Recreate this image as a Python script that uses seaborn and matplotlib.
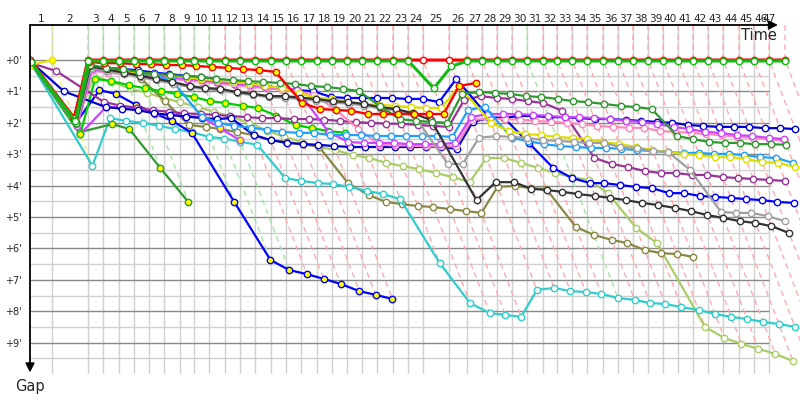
import matplotlib
matplotlib.use("Agg")
import matplotlib.pyplot as plt
import pandas as pd
import seaborn as sns

# ---------------- data ----------------
# leader's cumulative race time (minutes) at the end of laps 0..47
leader_time = [0.0, 1.83, 4.83, 6.08, 7.42, 8.67, 9.92, 11.17, 12.5, 13.67, 14.92,
               16.25, 17.5, 18.75, 20.08, 21.33, 22.58, 23.92, 25.17, 26.42, 27.67,
               28.92, 30.25, 31.5, 32.75, 34.92, 36.42, 37.67, 38.92, 40.17, 41.42,
               42.75, 43.92, 45.17, 46.42, 47.75, 49.0, 50.25, 51.5, 52.75, 54.0,
               55.25, 56.5, 57.75, 59.08, 60.33, 61.58, 62.92]
lap_numbers = list(range(1, 48))
gap_ticks = [0, 1, 2, 3, 4, 5, 6, 7, 8, 9]

# gap to leader (minutes) per lap, starting at lap 0 (the start)
green_w = [0.05, 1.95, 0.03, 0.03, 0.03, 0.03, 0.03, 0.03, 0.03, 0.03, 0.03, 0.03, 0.03,
           0.03, 0.03, 0.03, 0.03, 0.03, 0.03, 0.03, 0.03, 0.03, 0.03, 0.03, 0.9, 0.2,
           0.03, 0.03, 0.03, 0.03, 0.03, 0.03, 0.03, 0.03, 0.03, 0.03, 0.03, 0.03, 0.03,
           0.03, 0.03, 0.03, 0.03, 0.03, 0.03, 0.03, 0.03, 0.03]
red_w = [0.0, 1.85, 0, 0, 0, 0, 0, 0, 0, 0, 0, 0, 0, 0, 0, 0, 0, 0, 0, 0, 0, 0, 0, 0,
         0, 0, 0, 0, 0, 0, 0, 0, 0, 0, 0, 0, 0, 0, 0, 0, 0, 0, 0, 0, 0, 0, 0, 0]
yellow_y = [0.15, 0.0]
red_y = [0.0, 1.85, 0.06, 0.1, 0.1, 0.13, 0.13, 0.16, 0.16, 0.19, 0.22, 0.25, 0.29, 0.32,
         0.38, 1.37, 1.56, 1.59, 1.62, 1.72, 1.72, 1.72, 1.72, 1.72, 1.72, 0.83, 0.73]
dkgreen_w = [0.1, 2.0, 0.15, 0.25, 0.3, 0.38, 0.45, 0.48, 0.51, 0.54, 0.6, 0.64, 0.67, 0.7,
             0.73, 0.76, 0.83, 0.86, 0.92, 0.99, 1.46, 1.88, 1.94, 1.97, 2.0, 1.08, 1.02,
             1.05, 1.08, 1.15, 1.18, 1.24, 1.31, 1.34, 1.4, 1.46, 1.5, 1.56, 2.42, 2.52,
             2.61, 2.64, 2.64, 2.68, 2.68, 2.7]
black_w = [0.1, 2.0, 0.2, 0.3, 0.4, 0.5, 0.6, 0.7, 0.83, 0.89, 0.92, 1.02, 1.08, 1.15, 1.15,
           1.2, 1.24, 1.31, 1.34, 1.4, 1.5, 1.56, 1.7, 1.91, 4.46, 3.89, 3.89, 4.1, 4.14,
           4.2, 4.27, 4.33, 4.39, 4.46, 4.55, 4.62, 4.71, 4.81, 4.94, 5.03, 5.13, 5.19,
           5.29, 5.51]
gray_w = [0.12, 2.05, 0.25, 0.35, 0.45, 0.55, 0.65, 0.75, 0.87, 0.93, 0.97, 1.06, 1.12,
          1.19, 1.2, 1.25, 1.29, 1.36, 1.39, 1.45, 1.55, 1.61, 1.76, 3.31, 3.31, 2.48, 2.42,
          2.45, 2.48, 2.55, 2.58, 2.61, 2.64, 2.64, 2.77, 2.8, 2.9, 2.93, 3.5, 4.84, 4.87,
          4.87, 4.97, 5.13]
yellow_w = [0.1, 1.9, 0.25, 0.3, 0.35, 0.4, 0.45, 0.5, 0.55, 0.6, 0.65, 0.7, 0.75, 0.83,
            0.89, 1.05, 1.21, 1.24, 1.34, 1.4, 1.43, 1.46, 1.5, 1.53, 1.53, 0.83, 2.0, 2.26,
            2.36, 2.39, 2.45, 2.48, 2.52, 2.61, 2.68, 2.77, 2.87, 2.93, 3.0, 3.03, 3.09,
            3.09, 3.15, 3.25, 3.28, 3.41]
ltblue_w = [0.1, 2.0, 0.25, 0.25, 0.3, 0.4, 0.5, 0.65, 1.8, 2.0, 2.1, 2.15, 2.23, 2.29,
            2.32, 2.32, 2.39, 2.39, 2.39, 2.42, 2.42, 2.42, 2.42, 2.42, 2.45, 1.59, 1.5,
            2.48, 2.58, 2.68, 2.74, 2.77, 2.8, 2.8, 2.83, 2.87, 2.9, 2.93, 2.96, 2.96, 2.99,
            2.99, 3.03, 3.09, 3.12, 3.28]
violet_w = [0.1, 2.1, 0.3, 0.35, 0.4, 0.45, 0.5, 0.55, 0.6, 0.65, 0.7, 0.75, 0.8, 0.85,
            0.9, 0.95, 2.3, 2.61, 2.64, 2.64, 2.64, 2.68, 2.68, 2.68, 2.64, 1.82, 1.72, 1.72,
            1.72, 1.75, 1.78, 1.82, 1.82, 1.85, 1.88, 1.94, 1.97, 2.04, 2.13, 2.2, 2.29,
            2.32, 2.39, 2.42, 2.48, 2.52]
pink_w = [0.1, 2.1, 0.35, 0.4, 0.45, 0.5, 0.55, 0.6, 0.65, 0.7, 0.75, 0.8, 0.85, 0.9, 0.95,
          1.0, 1.1, 1.6, 2.2, 2.7, 2.72, 2.72, 2.75, 2.75, 2.75, 1.9, 1.88, 1.88, 1.9, 1.94,
          1.97, 2.0, 2.04, 2.1, 2.13, 2.16, 2.16, 2.26, 2.29, 2.32, 2.36, 2.39, 2.45, 2.48,
          2.52, 2.58]
navy_w = [0.05, 1.0, 1.5, 1.55, 1.6, 1.7, 1.75, 1.8, 1.85, 1.88, 1.85, 2.39, 2.55, 2.64,
          2.68, 2.7, 2.74, 2.77, 2.77, 2.77, 2.77, 2.77, 2.77, 2.77, 2.83, 1.97, 1.85, 1.85,
          1.78, 1.78, 1.82, 1.82, 1.85, 1.88, 1.88, 1.91, 1.94, 1.97, 2.0, 2.07, 2.1, 2.13,
          2.13, 2.13, 2.17, 2.17, 2.2]
blue_w = [0.05, 1.9, 0.22, 0.25, 0.28, 0.33, 0.4, 0.45, 0.5, 0.55, 0.6, 0.68, 0.75, 0.82,
          0.9, 0.96, 0.99, 1.18, 1.21, 1.21, 1.21, 1.21, 1.24, 1.24, 1.34, 0.6, 1.82, 1.85,
          2.64, 3.44, 3.76, 3.92, 3.92, 3.98, 4.04, 4.08, 4.24, 4.24, 4.33, 4.36, 4.39,
          4.43, 4.46, 4.52, 4.55]
purple_w = [0.1, 0.35, 1.34, 1.45, 1.52, 1.6, 1.65, 1.7, 1.72, 1.75, 1.78, 1.82, 1.85, 1.85,
            1.88, 1.88, 1.9, 1.94, 1.98, 2.0, 2.03, 2.03, 2.07, 2.1, 2.13, 1.27, 1.15, 1.21,
            1.24, 1.31, 1.37, 1.62, 3.12, 3.31, 3.41, 3.54, 3.6, 3.6, 3.66, 3.66, 3.73, 3.76,
            3.79, 3.82, 3.85]
green_y = [0.1, 2.36, 0.6, 0.67, 0.8, 0.9, 0.99, 1.08, 1.18, 1.31, 1.37, 1.46, 1.53, 1.78,
           2.07, 2.17, 2.26, 2.32]
violet_y = [0.1, 2.36, 1.5, 1.5, 1.52, 1.72, 1.75, 1.78, 1.82, 2.17, 2.55]
dkgreen_y = [0.1, 2.3, 2.04, 2.2, 3.44, 4.52]
blue_y = [0.1, 2.0, 0.96, 1.08, 1.43, 1.7, 1.94, 2.32, 4.52, 6.37, 6.69, 6.82, 6.97, 7.13,
          7.36, 7.48, 7.61]
cyan_w = [0.15, 3.37, 1.85, 1.94, 2.0, 2.1, 2.2, 2.3, 2.45, 2.5, 2.6, 2.7, 3.76, 3.85, 3.92,
          3.95, 4.04, 4.17, 4.27, 4.43, 6.46, 7.74, 8.06, 8.12, 8.18, 7.32, 7.26, 7.36,
          7.39, 7.45, 7.58, 7.64, 7.74, 7.77, 7.87, 7.96, 8.09, 8.18, 8.25, 8.34, 8.41, 8.5]
olive_w = [0.1, 2.0, 0.25, 0.3, 0.35, 0.6, 1.3, 2.07, 2.13, 2.2, 2.29, 2.39, 2.55, 2.61,
           2.68, 2.77, 3.92, 4.3, 4.52, 4.59, 4.65, 4.68, 4.75, 4.81, 4.87, 4.04, 4.01, 4.08,
           4.11, 5.32, 5.57, 5.73, 5.83, 6.05, 6.15, 6.18, 6.27]
ltgreen_w = [0.1, 2.0, 0.5, 0.7, 0.9, 1.05, 1.2, 1.35, 1.5, 1.65, 1.8, 2.0, 2.25, 2.45, 2.61,
             2.77, 2.87, 3.03, 3.12, 3.28, 3.38, 3.47, 3.6, 3.73, 3.89, 3.12, 3.12, 3.28,
             3.44, 3.6, 3.73, 3.82, 4.24, 5.35, 5.83, 8.5, 8.85, 9.04, 9.2, 9.36, 9.59]

# ---------------- styles ----------------
YEL = "#ffff00"
WH = "white"
series = [
    ("ltgreen_w", ltgreen_w, "#aacc66", WH, 1.6),
    ("olive_w", olive_w, "#888844", WH, 1.6),
    ("cyan_w", cyan_w, "#33cccc", WH, 1.6),
    ("dkgreen_y", dkgreen_y, "#2e9a2e", YEL, 1.6),
    ("blue_y", blue_y, "#0000ff", YEL, 1.6),
    ("violet_y", violet_y, "#cc44ff", YEL, 1.6),
    ("green_y", green_y, "#00cc00", YEL, 1.6),
    ("purple_w", purple_w, "#993399", WH, 1.6),
    ("blue_w", blue_w, "#0000ff", WH, 1.6),
    ("navy_w", navy_w, "#0000cc", WH, 1.6),
    ("pink_w", pink_w, "#ff88bb", WH, 1.6),
    ("violet_w", violet_w, "#cc44ff", WH, 1.6),
    ("ltblue_w", ltblue_w, "#1ea0ff", WH, 1.6),
    ("yellow_w", yellow_w, "#dddd00", WH, 1.6),
    ("gray_w", gray_w, "#a0a0a0", WH, 1.6),
    ("black_w", black_w, "#333333", WH, 1.6),
    ("dkgreen_w", dkgreen_w, "#2e9a2e", WH, 1.6),
    ("red_y", red_y, "#ff0000", YEL, 1.7),
    ("yellow_y", yellow_y, "#e0e000", YEL, 1.6),
    ("red_w", red_w, "#ff0000", WH, 2.2),
    ("green_w", green_w, "#11bb11", WH, 2.2),
]
green_dash_laps = [2, 3, 4, 5, 6, 7, 8, 9, 10, 30]

rows = []
for name, gaps, *_ in series:
    for lap, g in enumerate(gaps):
        rows.append({"driver": name, "lap": lap, "gap": g, "time": leader_time[lap] + g})
df = pd.DataFrame(rows)

# ---------------- figure ----------------
sns.set_style("white")
plt.rcParams["font.family"] = ["DejaVu Sans"]
fig = plt.figure(figsize=(8, 4), dpi=100)
ax = fig.add_axes([30 / 800, 26 / 400, 770 / 800, 349 / 400])
y_top, y_bot = -1.115, 10.0
x_max = (800 - 30) / 12.0
ax.set_xlim(0, x_max)
ax.set_ylim(y_bot, y_top)
for s in ax.spines.values():
    s.set_visible(False)

grid_end = leader_time[-2]
# grid: half-minute rows, one column per leader lap
for h in [k * 0.5 for k in range(0, 20)]:
    major = float(h).is_integer()
    ax.plot([0, grid_end], [h, h], color="#888888" if major else "#d0d0d0",
            lw=1.0, zorder=1.2 if major else 1.0, solid_capstyle="butt")
for t in leader_time[1:-1]:
    ax.plot([t, t], [y_top, y_bot], color="#d0d0d0", lw=1.0, zorder=1.0)

# dashed lap lines: vertical to the leader, then along each lap's points
for lap in lap_numbers:
    t = leader_time[lap]
    depth = 0.0
    for name, gaps, *_ in series:
        if lap < len(gaps):
            depth = max(depth, gaps[lap])
        elif leader_time[len(gaps) - 1] + gaps[-1] > grid_end:
            depth = max(depth, gaps[-1])
    if lap == 1:
        col = "#eeee77"
    elif lap in green_dash_laps:
        col = "#a8e4a8"
    else:
        col = "#ffaaaa"
    ax.plot([t, t, t + depth], [y_top, 0, depth], color=col, lw=1.0,
            ls=(0, (4, 3)), zorder=1.5)

# series
for k, (name, gaps, color, face, lw) in enumerate(series):
    sub = df[df["driver"] == name]
    sns.lineplot(data=sub, x="time", y="gap", ax=ax, color=color, lw=lw,
                 marker="o", markersize=4.6, markerfacecolor=face,
                 markeredgecolor=color, markeredgewidth=1.0,
                 estimator=None, sort=False, legend=False, zorder=3 + k * 0.01)

# axes arrows
ax.annotate("", xy=(grid_end + 0.75, y_top), xytext=(0, y_top),
            arrowprops=dict(arrowstyle="-|>", color="black", lw=1.3,
                            mutation_scale=13, shrinkA=0, shrinkB=0),
            annotation_clip=False, zorder=6)
ax.annotate("", xy=(0, y_bot - 0.05), xytext=(0, y_top),
            arrowprops=dict(arrowstyle="-|>", color="black", lw=1.3,
                            mutation_scale=13, shrinkA=0, shrinkB=0),
            annotation_clip=False, zorder=6)

# lap labels
for lap in lap_numbers:
    mid = min((leader_time[lap - 1] + leader_time[lap]) / 2, grid_end)
    ax.text(mid, 1.004, str(lap), transform=ax.get_xaxis_transform(),
            ha="center", va="bottom", fontsize=7.6, clip_on=False)

ax.set_xticks([])
ax.set_yticks(gap_ticks)
ax.set_yticklabels([f"+{g}'" for g in gap_ticks], fontsize=7)
ax.tick_params(axis="y", length=0, pad=6)
ax.set_xlabel("")
ax.set_ylabel("")
ax.text(grid_end + 0.65, -0.78, "Time", ha="right", va="center", fontsize=10.5)
ax.text(0, -0.037, "Gap", transform=ax.get_xaxis_transform(), ha="center",
        va="center", fontsize=10.5, clip_on=False)

fig.savefig("out.png", dpi=100)
